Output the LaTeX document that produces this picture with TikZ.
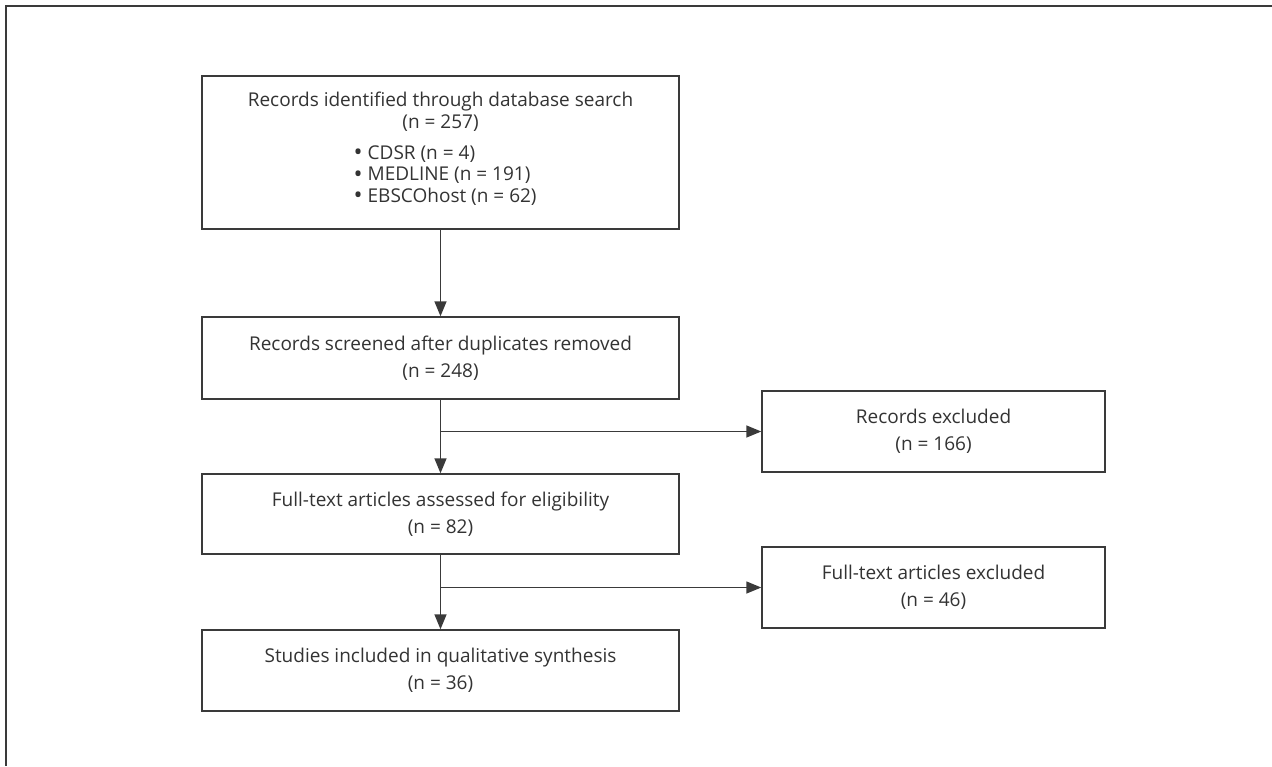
\documentclass[tikz,border=0pt]{standalone}
\usepackage{fontspec}
\setmainfont{Open Sans}
\usetikzlibrary{arrows.meta}
\definecolor{txt}{HTML}{333333}
\definecolor{ln}{HTML}{3A3A3A}
\newcommand{\bigbul}{\raisebox{-1.3pt}{\fontsize{24}{21}\selectfont•}}
\tikzset{
  box/.style={draw=ln, line width=1.4pt, inner sep=0pt},
  lbl/.style={anchor=center, inner sep=0pt, align=center, text=txt,
    font=\fontsize{19}{27}\selectfont},
  one/.style={anchor=base, inner sep=0pt, text=txt, font=\fontsize{19}{21.5}\selectfont},
  conn/.style={draw=ln, line width=1.4pt, -{Triangle[length=15pt,width=12pt]}},
}
\begin{document}
\begin{tikzpicture}[x=1pt,y=-1pt]
\useasboundingbox (0,0) rectangle (1272,766);
\draw[ln, line width=1.5pt] (1272,6) -- (6,6) -- (6,766);
\node[box, minimum width=477pt, minimum height=153pt] (b1) at (440.5,152.5) {};
\node[box, minimum width=477pt, minimum height=82pt] (b2) at (440.5,358) {};
\node[box, minimum width=477pt, minimum height=80pt] (b3) at (440.5,514) {};
\node[box, minimum width=477pt, minimum height=81pt] (b4) at (440.5,670.5) {};
\node[box, minimum width=343pt, minimum height=81pt] (e1) at (933.5,431.5) {};
\node[box, minimum width=343pt, minimum height=81pt] (e2) at (933.5,587.5) {};
\node[one] (t1a) at ([yshift=-31pt]b1.north) {Records identified through database search};
\node[one] (t1b) at ([yshift=-53pt]b1.north) {(n = 257)};
\node[one, anchor=base west] (t1c) at ([xshift=-87pt,yshift=-84pt]b1.north)
  {\begin{tabular}[t]{@{}l@{}}\bigbul\ CDSR (n = 4)\\\bigbul\ MEDLINE (n = 191)\\\bigbul\ EBSCOhost (n = 62)\end{tabular}};
\node[lbl] (t2) at (b2.center) {Records screened after duplicates removed\\(n = 248)};
\node[lbl] (t3) at (b3.center) {Full-text articles assessed for eligibility\\(n = 82)};
\node[lbl] (t4) at (b4.center) {Studies included in qualitative synthesis\\(n = 36)};
\node[lbl] (t5) at (e1.center) {Records excluded\\(n = 166)};
\node[lbl] (t6) at (e2.center) {Full-text articles excluded\\(n = 46)};
\coordinate (j1) at (440.5,431.5);
\coordinate (j2) at (440.5,587.5);
\draw[conn] (b1.south) -- (b2.north);
\draw[conn] (b2.south) -- (b3.north);
\draw[conn] (b3.south) -- (b4.north);
\draw[conn] (j1) -- (e1.west);
\draw[conn] (j2) -- (e2.west);
\end{tikzpicture}
\end{document}
